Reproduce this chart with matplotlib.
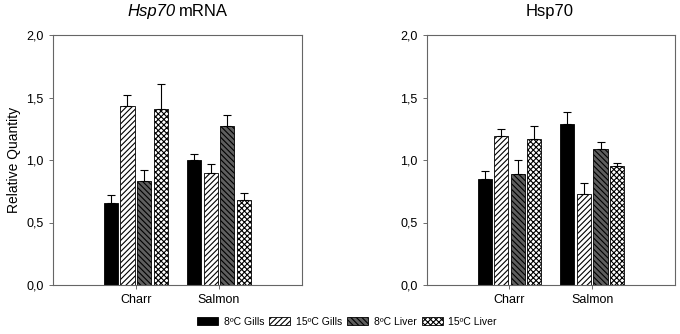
import numpy as np
import matplotlib
matplotlib.use('Agg')
import matplotlib.pyplot as plt
from matplotlib.patches import Patch
from matplotlib.ticker import FuncFormatter

plt.rcParams['font.family'] = ['Liberation Sans', 'DejaVu Sans']
plt.rcParams['hatch.linewidth'] = 0.8

species = ['Charr', 'Salmon']
series = ['8ºC Gills', '15ºC Gills', '8ºC Liver', '15ºC Liver']

# mRNA panel: [charr, salmon] per series
mrna_vals = [[0.66, 1.00], [1.43, 0.90], [0.83, 1.27], [1.41, 0.68]]
mrna_err = [[0.06, 0.05], [0.09, 0.07], [0.09, 0.09], [0.20, 0.06]]

# protein panel
prot_vals = [[0.85, 1.29], [1.19, 0.73], [0.89, 1.09], [1.17, 0.95]]
prot_err = [[0.06, 0.09], [0.06, 0.09], [0.11, 0.05], [0.10, 0.03]]

faces = ['black', 'white', '#5e5e5e', 'white']
hatches = [None, '//////', '\\\\\\\\\\\\', 'xxxxxx']

fig = plt.figure(figsize=(6.8, 3.34), dpi=100)
ax1 = fig.add_axes([52.7 / 680, 1 - 285 / 334, 249.3 / 680, 250 / 334])
ax2 = fig.add_axes([426.7 / 680, 1 - 285 / 334, 248.3 / 680, 250 / 334])

def draw(ax, vals, errs):
  x = np.arange(1, len(species) + 1)
  offsets = [-0.3, -0.1, 0.1, 0.3]
  for i in range(len(series)):
    ax.bar(x + offsets[i], vals[i], width=0.17, color=faces[i], hatch=hatches[i],
           edgecolor='black', linewidth=0.6, zorder=2)
    ax.errorbar(x + offsets[i], vals[i], yerr=[np.zeros(len(x)), errs[i]], fmt='none',
                ecolor='black', elinewidth=0.8, capsize=3, capthick=0.8, zorder=3)
  ax.set_xlim(0, 3)
  ax.set_ylim(0, 2.0)
  ax.set_xticks(x)
  ax.set_xticklabels(species, fontsize=9)
  ax.set_yticks([0, 0.5, 1.0, 1.5, 2.0])
  ax.yaxis.set_major_formatter(FuncFormatter(lambda v, p: ('%.1f' % v).replace('.', ',')))
  ax.tick_params(axis='both', labelsize=9, length=3, width=0.6, color='#555555')
  for s in ax.spines.values():
    s.set_color('#666666')
    s.set_linewidth(0.8)

draw(ax1, mrna_vals, mrna_err)
draw(ax2, prot_vals, prot_err)

# titles: italic gene name + plain text on the left, plain on the right
title_y = 1 - 16 / 334
fig.text(176 / 680, title_y, 'Hsp70', fontsize=12, style='italic', ha='right', va='baseline')
fig.text(179 / 680, title_y, 'mRNA', fontsize=12, ha='left', va='baseline')
fig.text(549.5 / 680, title_y, 'Hsp70', fontsize=12, ha='center', va='baseline')
ax1.set_ylabel('Relative Quantity', fontsize=10)

handles = [Patch(facecolor=faces[i], hatch=hatches[i], edgecolor='black', linewidth=0.6,
                 label=series[i]) for i in range(len(series))]
fig.legend(handles=handles, loc='center', bbox_to_anchor=(347 / 680, 1 - 322 / 334), ncol=4,
           frameon=False, fontsize=7.5, handlelength=2.0, handleheight=0.8,
           handletextpad=0.55, columnspacing=0.5)

fig.savefig('out.png', dpi=100)
